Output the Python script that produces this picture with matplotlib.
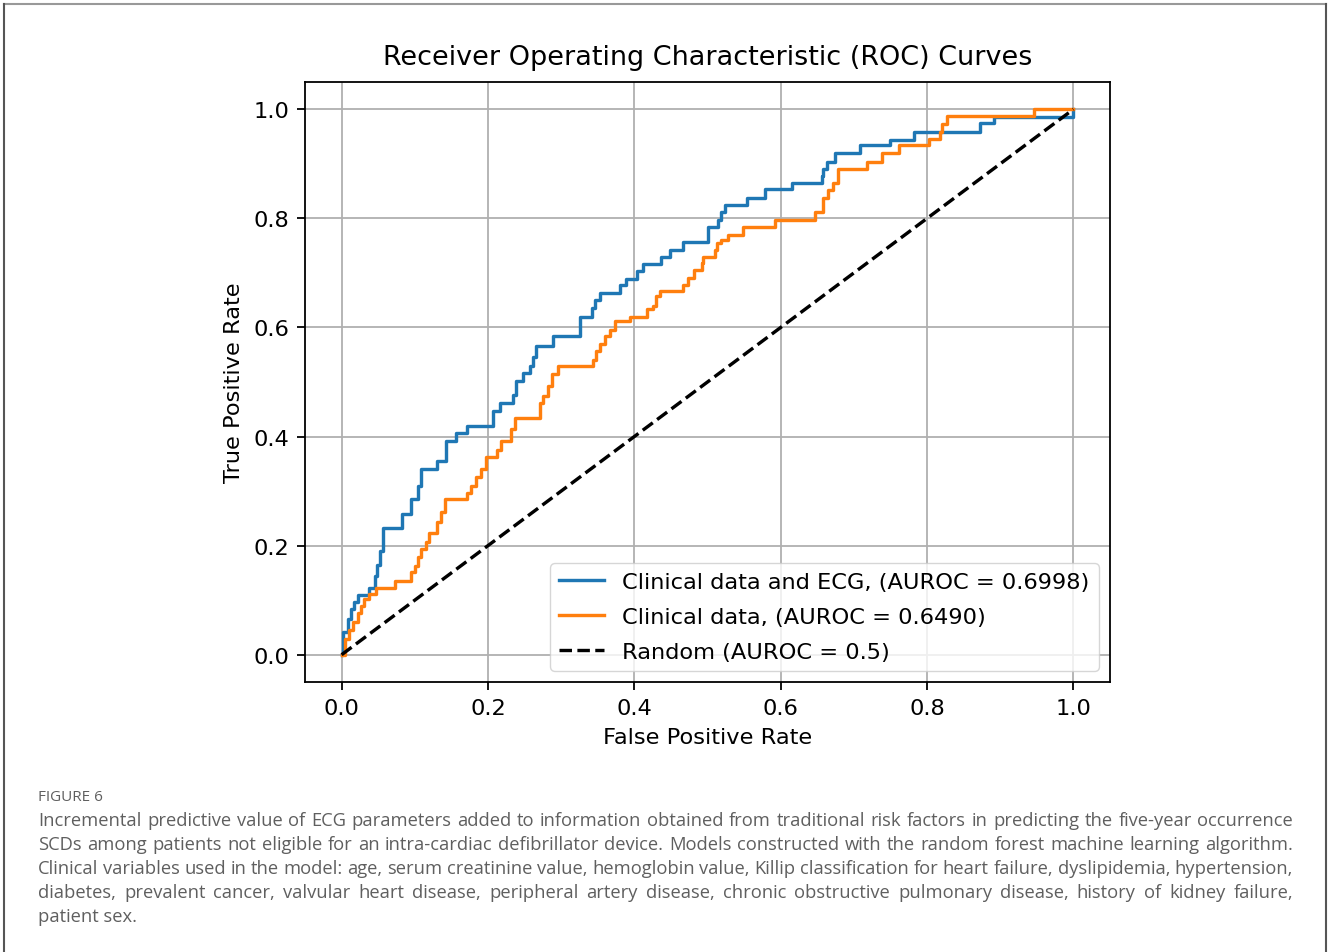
import matplotlib
matplotlib.use("Agg")
import matplotlib.pyplot as plt
from matplotlib.lines import Line2D

# ROC step points (fpr, tpr)
fpr_ecg = [0, .002, .009, .013, .017, .022, .038, .045, .048, .052, .057, .082, .095, .104,
           .108, .130, .143, .157, .171, .207, .216, .234, .239, .248, .257, .262, .266, .289,
           .326, .342, .346, .353, .380, .389, .403, .412, .437, .449, .467, .501, .515, .519,
           .524, .554, .579, .615, .656, .658, .663, .674, .709, .750, .782, .873, .891, 1.0]
tpr_ecg = [0, .042, .066, .084, .097, .110, .122, .145, .165, .190, .233, .258, .285, .310,
           .340, .356, .392, .407, .419, .447, .462, .477, .501, .516, .529, .545, .566, .584,
           .620, .636, .651, .663, .678, .689, .703, .717, .730, .742, .757, .785, .797, .812,
           .824, .837, .853, .865, .877, .891, .903, .919, .934, .944, .958, .975, .986, 1.0]

fpr_clin = [0, .004, .010, .015, .022, .027, .031, .038, .047, .073, .095, .100, .104, .109,
            .116, .120, .130, .136, .141, .171, .177, .184, .191, .198, .212, .218, .232, .237,
            .271, .275, .282, .287, .296, .344, .348, .353, .360, .367, .373, .394, .417, .426,
            .430, .435, .467, .474, .481, .492, .494, .510, .513, .519, .528, .549, .592, .647,
            .658, .665, .672, .679, .718, .738, .761, .802, .818, .820, .827, .946, 1.0]
tpr_clin = [0, .029, .045, .060, .077, .090, .102, .112, .122, .136, .151, .163, .180, .194,
            .206, .224, .243, .261, .285, .297, .310, .325, .340, .362, .376, .392, .413, .434,
            .462, .474, .492, .514, .529, .541, .556, .569, .584, .596, .611, .620, .633, .639,
            .657, .666, .678, .691, .706, .718, .730, .742, .754, .760, .770, .785, .797, .812,
            .837, .852, .865, .891, .903, .919, .934, .946, .958, .973, .988, 1.0, 1.0]

labels = ["Clinical data and ECG, (AUROC = 0.6998)",
          "Clinical data, (AUROC = 0.6490)",
          "Random (AUROC = 0.5)"]

caption_head = "FIGURE 6"
caption_lines = [
  "Incremental predictive value of ECG parameters added to information obtained from traditional risk factors in predicting the five-year occurrence",
  "SCDs among patients not eligible for an intra-cardiac defibrillator device. Models constructed with the random forest machine learning algorithm.",
  "Clinical variables used in the model: age, serum creatinine value, hemoglobin value, Killip classification for heart failure, dyslipidemia, hypertension,",
  "diabetes, prevalent cancer, valvular heart disease, peripheral artery disease, chronic obstructive pulmonary disease, history of kidney failure,",
  "patient sex.",
]

W, H = 1328, 953
k = 1.62  # scale of the original figure
fig = plt.figure(figsize=(W / 100, H / 100), dpi=100)
ax = fig.add_axes([305 / W, 1 - 683 / H, 805 / W, 600 / H])

ax.plot(fpr_ecg, tpr_ecg, drawstyle="steps-post", color="#1f77b4", lw=1.5 * k, label=labels[0])
ax.plot(fpr_clin, tpr_clin, drawstyle="steps-post", color="#ff7f0e", lw=1.5 * k, label=labels[1])
ax.plot([0, 1], [0, 1], "k--", lw=1.5 * k, label=labels[2])

ax.set_title("Receiver Operating Characteristic (ROC) Curves", fontsize=12 * k, pad=8 * k)
ax.set_xlabel("False Positive Rate", fontsize=10 * k, labelpad=4 * k)
ax.set_ylabel("True Positive Rate", fontsize=10 * k, labelpad=4 * k)
ax.tick_params(labelsize=10 * k, length=3.5 * k, width=0.8 * k, pad=3.5 * k)
for s in ax.spines.values():
  s.set_linewidth(0.8 * k)
ax.grid(True, lw=0.8 * k)
ax.legend(loc="lower right", fontsize=10 * k, labelspacing=0.66)

# outer frame of the page
fig.add_artist(Line2D([4 / W, 1326 / W], [1 - 5 / H, 1 - 5 / H], color="#999999", lw=1.5))
fig.add_artist(Line2D([4 / W, 4 / W], [0, 1 - 5 / H], color="#555555", lw=1.5))
fig.add_artist(Line2D([1326 / W, 1326 / W], [0, 1 - 5 / H], color="#555555", lw=1.5))

cap_font = dict(family="Open Sans", color="#5f5f5f")
fig.text(38 / W, 1 - 798 / H, caption_head, fontsize=11, va="center", **cap_font)

# justified caption lines
x0, x1 = 38, 1293
renderer = fig.canvas.get_renderer()
for i, line in enumerate(caption_lines):
  y = 1 - (821 + 24 * i) / H
  words = line.split(" ")
  if i == len(caption_lines) - 1:
    fig.text(x0 / W, y, line, fontsize=13.2, va="center", **cap_font)
    continue
  texts = [fig.text(0, y, w, fontsize=13.2, va="center", **cap_font) for w in words]
  widths = [t.get_window_extent(renderer).width for t in texts]
  gap = (x1 - x0 - sum(widths)) / (len(words) - 1)
  x = x0
  for t, w in zip(texts, widths):
    t.set_x(x / W)
    x += w + gap

fig.savefig("out.png", dpi=100)
